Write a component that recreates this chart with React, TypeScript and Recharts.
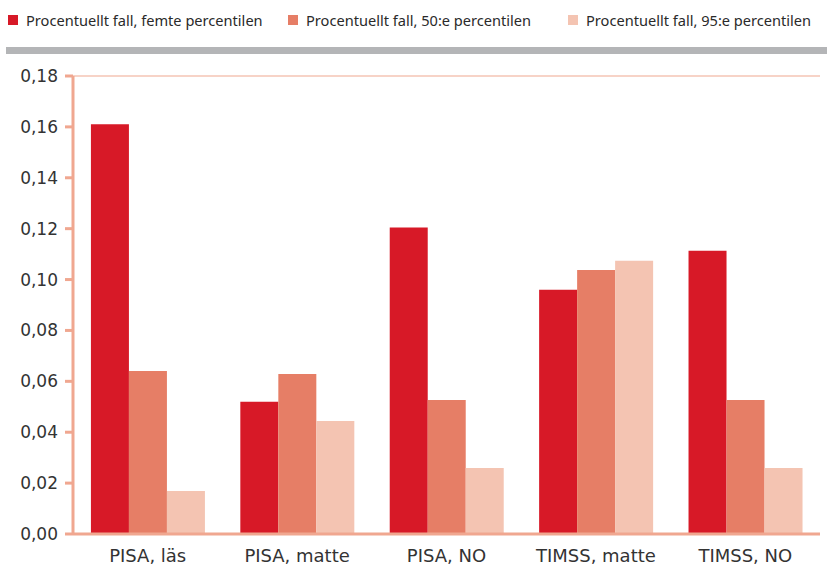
import { BarChart, Bar, XAxis, YAxis, CartesianGrid, Legend } from 'recharts'

const categories = ['PISA, läs', 'PISA, matte', 'PISA, NO', 'TIMSS, matte', 'TIMSS, NO']
const femte = [0.161, 0.052, 0.1205, 0.096, 0.1113]
const femtio = [0.0641, 0.0629, 0.0527, 0.1038, 0.0527]
const nittiofem = [0.0169, 0.0444, 0.0259, 0.1074, 0.0259]
const yTicks = [0, 0.02, 0.04, 0.06, 0.08, 0.1, 0.12, 0.14, 0.16, 0.18]

const seriesNames = [
  'Procentuellt fall, femte percentilen',
  'Procentuellt fall, 50:e percentilen',
  'Procentuellt fall, 95:e percentilen',
]
const colors = ['#d71927', '#e67e66', '#f4c4b2']
const axisColor = '#f0a790'

const data = categories.map((name, i) => ({
  name,
  p5: femte[i],
  p50: femtio[i],
  p95: nittiofem[i],
}))

const fmt = (v: number) => v.toFixed(2).replace('.', ',')

function LegendRow() {
  return (
    <div style={{ display: 'flex', fontFamily: 'Noto Sans, sans-serif', fontSize: 14.6, color: '#2a2a2a' }}>
      {seriesNames.map((n, i) => (
        <div key={n} style={{ display: 'flex', alignItems: 'center', width: 280, whiteSpace: 'nowrap' }}>
          <span style={{ width: 10, height: 10, background: colors[i], marginRight: 8, display: 'inline-block' }} />
          {n}
        </div>
      ))}
    </div>
  )
}

export default function App() {
  return (
    <div style={{ position: 'fixed', left: 0, top: 0, width: 827, height: 569, background: '#fff' }}>
      <div style={{ position: 'absolute', left: 8, top: 10 }}>
        <LegendRow />
      </div>
      <div style={{ position: 'absolute', left: 6, top: 47, width: 821, height: 7, background: '#b4b5b7' }} />
      <div style={{ position: 'absolute', left: 0, top: 0 }}>
        <BarChart
          width={827}
          height={569}
          data={data}
          margin={{ top: 76, right: 7, left: 0, bottom: 0 }}
          barCategoryGap="12%"
          barGap={0}
        >
          <CartesianGrid vertical={false} stroke={axisColor} strokeWidth={1.2} />
          <XAxis
            dataKey="name"
            height={35}
            axisLine={{ stroke: axisColor, strokeWidth: 3 }}
            tickLine={false}
            tick={{ fill: '#333', fontSize: 18, fontFamily: 'DejaVu Sans, sans-serif' }}
            tickMargin={9}
          />
          <YAxis
            yAxisId="left"
            width={73}
            domain={[0, 0.18]}
            ticks={yTicks}
            tickFormatter={fmt}
            axisLine={{ stroke: axisColor, strokeWidth: 3 }}
            tickLine={{ stroke: axisColor, strokeWidth: 3 }}
            tickSize={8}
            tickMargin={7}
            tick={{ fill: '#333', fontSize: 17, fontFamily: 'DejaVu Sans, sans-serif' }}
          />
          <YAxis
            yAxisId="right"
            orientation="right"
            width={0}
            domain={[0, 0.18]}
            ticks={yTicks}
            tick={false}
            tickLine={false}
            axisLine={{ stroke: axisColor, strokeWidth: 3 }}
          />
          <Legend content={() => null} />
          <Bar yAxisId="left" dataKey="p5" name={seriesNames[0]} fill={colors[0]} isAnimationActive={false} />
          <Bar yAxisId="left" dataKey="p50" name={seriesNames[1]} fill={colors[1]} isAnimationActive={false} />
          <Bar yAxisId="left" dataKey="p95" name={seriesNames[2]} fill={colors[2]} isAnimationActive={false} />
        </BarChart>
      </div>
    </div>
  )
}
